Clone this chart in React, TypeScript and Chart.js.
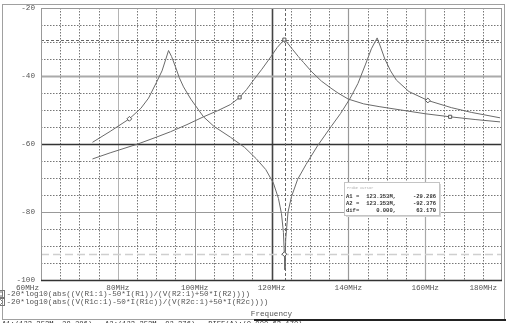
import React, { useEffect, useRef } from 'react';
import { Chart, registerables } from 'chart.js';
Chart.register(...registerables);

// Trace A: -20*log10(abs((V(R1:1)-50*I(R1))/(V(R2:1)+50*I(R2))))  (single peak)
const FREQ_A = [73.4, 78, 85.2, 90, 93.7, 98, 102.3, 106, 109.3, 111.7, 113.5, 115.4, 117.5, 119.8, 121.5, 122.6, 123.35, 124.3, 125.5, 127, 128.4, 130.5, 133, 135.5, 137.3, 140, 144, 148, 153.7, 160, 166.5, 173, 179.5];
const DB_A = [-64.4, -62.6, -60, -58, -56.4, -54.3, -52, -50.2, -48.4, -46.3, -44, -41.1, -38, -34.4, -31.6, -30.2, -29.3, -30.5, -32.2, -34.3, -36.1, -38.8, -41.5, -43.6, -45, -46.8, -48.2, -49, -50, -51.1, -52, -52.8, -53.5];
// Trace B: -20*log10(abs((V(R1c:1)-50*I(R1c))/(V(R2c:1)+50*I(R2c))))  (two peaks)
const FREQ_B = [73.4, 78, 83, 86, 88, 90, 91.5, 92.5, 93.2, 94, 95, 96, 97.1, 99, 102.3, 105, 109.3, 113, 116, 118.5, 120.5, 121.8, 122.6, 123.1, 123.35, 123.5, 123.7, 124.3, 125.2, 126.8, 129, 132, 135.5, 138, 140.5, 142.5, 144.5, 146, 147.5, 148.5, 149.5, 151, 152.5, 155.8, 160.7, 166.8, 172, 179.5];
const DB_B = [-59.5, -56.3, -52.6, -49.5, -46.5, -42, -38.5, -35, -32.5, -34.3, -37.3, -40.5, -43.2, -46.8, -52, -54.8, -58, -61, -64.3, -67.5, -71.5, -76, -80.5, -86, -92.4, -97, -88, -80, -75.5, -70.4, -66, -60.5, -54.9, -51, -46.5, -42.2, -36.5, -32, -28.8, -31.8, -35, -38.5, -41.2, -44.6, -47.2, -49.3, -50.7, -52.3];
const MARK_A = [111.7, 123.35, 166.5];
const MARK_B = [83, 123.35, 160.7];

const X_TICKS = [60, 80, 100, 120, 140, 160, 180];
const Y_TICKS = [-20, -40, -60, -80, -100];
const LEGEND_A = '-20*log10(abs((V(R1:1)-50*I(R1))/(V(R2:1)+50*I(R2))))';
const LEGEND_B = '-20*log10(abs((V(R1c:1)-50*I(R1c))/(V(R2c:1)+50*I(R2c))))';
const X_TITLE = 'Frequency';
const CURSOR_F = 123.353;
const CURSOR_A1 = -29.286;
const CURSOR_A2 = -92.376;
const CURSOR_ROWS = [
  ['A1 =', '123.353M,', '-29.286'],
  ['A2 =', '123.353M,', '-92.376'],
  ['dif=', '0.000,', '63.170'],
];
const STATUS = 'A1:(123.353M,-29.286),  A2:(123.353M,-92.376),  DIFF(A):(0.000,63.170)';

const MONO = '"Liberation Mono", "DejaVu Sans Mono", monospace';
const TRACE = '#6a6a6a';

// set a monospace font whose character advance equals `adv` px
const setMono = (ctx: CanvasRenderingContext2D, adv: number, weight = '') => {
  ctx.font = `${weight} 20px ${MONO}`;
  const k = ctx.measureText('0000000000').width / 200;
  ctx.font = `${weight} ${(adv / k).toFixed(2)}px ${MONO}`;
};

const overlay = {
  id: 'overlay',
  beforeDatasetsDraw(chart: any) {
    const { ctx, chartArea: a, scales } = chart;
    const x = scales.x, y = scales.y;
    const vl = (px: number) => { ctx.beginPath(); ctx.moveTo(px, a.top); ctx.lineTo(px, a.bottom); ctx.stroke(); };
    const hl = (py: number) => { ctx.beginPath(); ctx.moveTo(a.left, py); ctx.lineTo(a.right, py); ctx.stroke(); };
    ctx.save();
    ctx.setLineDash([1.5, 1.5]);
    ctx.strokeStyle = '#777';
    ctx.lineWidth = 1;
    for (let f = 65; f < 180; f += 5) if (f % 20 !== 0) vl(Math.round(x.getPixelForValue(f)) + 0.5);
    for (let v = -95; v < -20; v += 5) if (v % 20 !== 0) hl(Math.round(y.getPixelForValue(v)) + 0.5);
    ctx.setLineDash([]);
    const majV: [number, string, number][] = [[80, '#b4b4b4', 1], [100, '#9a9a9a', 1], [120, '#444', 1.6], [140, '#999', 1.2], [160, '#a8a8a8', 1.2]];
    majV.forEach(([f, c, w]) => { ctx.strokeStyle = c; ctx.lineWidth = w; vl(Math.round(x.getPixelForValue(f)) + 0.5); });
    const majH: [number, string, number][] = [[-40, '#aaa', 2], [-60, '#333', 1.6], [-80, '#999', 1.2]];
    majH.forEach(([v, c, w]) => { ctx.strokeStyle = c; ctx.lineWidth = w; hl(Math.round(y.getPixelForValue(v)) + 0.5); });
    ctx.setLineDash([3, 2]);
    ctx.strokeStyle = '#666';
    ctx.lineWidth = 1;
    vl(Math.round(x.getPixelForValue(CURSOR_F)) + 1.5);
    hl(Math.round(y.getPixelForValue(CURSOR_A1)) + 0.5);
    ctx.setLineDash([8, 4]);
    ctx.strokeStyle = '#cfcfcf';
    ctx.lineWidth = 1.5;
    hl(Math.round(y.getPixelForValue(CURSOR_A2)) + 0.5);
    ctx.setLineDash([]);
    ctx.lineWidth = 1;
    ctx.strokeStyle = '#999';
    ctx.strokeRect(a.left + 0.5, a.top + 0.5, a.right - a.left - 1, a.bottom - a.top);
    ctx.strokeStyle = '#333';
    ctx.lineWidth = 1.5;
    ctx.beginPath(); ctx.moveTo(a.left, a.bottom + 0.5); ctx.lineTo(a.right, a.bottom + 0.5); ctx.stroke();
    ctx.restore();
  },
  afterDraw(chart: any) {
    const { ctx, chartArea: a, scales } = chart;
    const x = scales.x, y = scales.y;
    ctx.save();
    ctx.strokeStyle = '#a0a0a0';
    ctx.lineWidth = 1;
    ctx.strokeRect(2.5, 4.5, 502, 315);
    ctx.strokeStyle = '#222';
    ctx.lineWidth = 2;
    ctx.beginPath(); ctx.moveTo(254, 320); ctx.lineTo(506, 320); ctx.stroke();
    setMono(ctx, 4.6);
    ctx.fillStyle = '#555';
    ctx.textBaseline = 'middle';
    ctx.textAlign = 'right';
    Y_TICKS.forEach((v) => ctx.fillText(String(v), a.left - 6, y.getPixelForValue(v)));
    X_TICKS.forEach((f, i) => {
      const px = x.getPixelForValue(f);
      const t = `${f}MHz`;
      if (i === 0) { ctx.textAlign = 'right'; ctx.fillText(t, px - 2, 288); }
      else if (i === X_TICKS.length - 1) { ctx.textAlign = 'right'; ctx.fillText(t, px - 5, 288); }
      else { ctx.textAlign = 'center'; ctx.fillText(t, px, 288); }
    });
    setMono(ctx, 4.6);
    ctx.textAlign = 'left';
    ctx.fillText(LEGEND_A, 6.5, 294);
    ctx.fillText(LEGEND_B, 6.5, 302);
    ctx.strokeStyle = '#777';
    ctx.lineWidth = 1;
    ctx.strokeRect(-3.5, 290.5, 8, 7);
    ctx.strokeRect(-3.5, 298.5, 8, 7);
    ctx.strokeRect(-1.5, 292, 4, 4);
    ctx.beginPath(); ctx.moveTo(0.5, 299.5); ctx.lineTo(3, 302); ctx.lineTo(0.5, 304.5); ctx.lineTo(-2, 302); ctx.closePath(); ctx.stroke();
    ctx.textAlign = 'center';
    ctx.fillText(X_TITLE, (a.left + a.right) / 2, 314);
    ctx.textAlign = 'left';
    ctx.textBaseline = 'top';
    ctx.fillStyle = '#333';
    setMono(ctx, 4.3);
    ctx.fillText(STATUS, 2, 320.5);
    const bx = 344, by = 182, bw = 95, bh = 33;
    ctx.fillStyle = '#d8d8d8';
    ctx.fillRect(bx + 2, by + 2, bw, bh);
    ctx.fillStyle = '#fff';
    ctx.fillRect(bx, by, bw, bh);
    ctx.strokeStyle = '#c4c4c4';
    ctx.strokeRect(bx + 0.5, by + 0.5, bw, bh);
    ctx.textBaseline = 'middle';
    setMono(ctx, 2.2);
    ctx.fillStyle = '#aaa';
    ctx.fillText('Probe Cursor', bx + 3, by + 6);
    setMono(ctx, 3.3, 'bold');
    ctx.fillStyle = '#333';
    CURSOR_ROWS.forEach((r, i) => {
      const ry = by + 14.5 + i * 7;
      ctx.textAlign = 'left';
      ctx.fillText(r[0], bx + 2, ry);
      ctx.textAlign = 'right';
      ctx.fillText(r[1], bx + 52, ry);
      ctx.fillText(r[2], bx + 92, ry);
    });
    ctx.restore();
  },
};

export default function App() {
  const ref = useRef<HTMLCanvasElement | null>(null);
  useEffect(() => {
    const canvas = ref.current;
    if (!canvas) return;
    const mk = (fs: number[], ds: number[]) => fs.map((f, i) => ({ x: f, y: ds[i] }));
    const chart = new Chart(canvas, {
      type: 'line',
      data: {
        datasets: [
          {
            label: LEGEND_A,
            data: mk(FREQ_A, DB_A),
            borderColor: TRACE,
            borderWidth: 1,
            backgroundColor: '#fff',
            pointBorderColor: '#555',
            pointStyle: 'rect',
            pointRadius: (c: any) => (c.raw && MARK_A.includes(c.raw.x) ? 2.2 : 0),
            tension: 0,
          },
          {
            label: LEGEND_B,
            data: mk(FREQ_B, DB_B),
            borderColor: TRACE,
            borderWidth: 1,
            backgroundColor: '#fff',
            pointBorderColor: '#555',
            pointStyle: 'rectRot',
            pointRadius: (c: any) => (c.raw && MARK_B.includes(c.raw.x) ? 2.4 : 0),
            tension: 0,
          },
        ],
      },
      options: {
        responsive: false,
        animation: false,
        layout: { padding: { left: 0, top: 8, right: 6, bottom: 0 } },
        plugins: { legend: { display: false }, tooltip: { enabled: false } },
        scales: {
          x: {
            type: 'linear',
            min: 60,
            max: 180,
            grid: { display: false, drawTicks: false },
            border: { display: false },
            ticks: { display: false, stepSize: 20 },
            afterFit: (s: any) => { s.height = 43; s.paddingLeft = 0; s.paddingRight = 0; },
          },
          y: {
            type: 'linear',
            min: -100,
            max: -20,
            grid: { display: false, drawTicks: false },
            border: { display: false },
            ticks: { display: false, stepSize: 20 },
            afterFit: (s: any) => { s.width = 41; s.paddingTop = 0; s.paddingBottom = 0; },
          },
        },
      },
      plugins: [overlay],
    } as any);
    return () => chart.destroy();
  }, []);
  return (
    <div style={{ position: 'fixed', left: 0, top: 0, width: 508, height: 323, background: '#fff' }}>
      <canvas ref={ref} width={508} height={323} style={{ display: 'block' }} />
    </div>
  );
}
